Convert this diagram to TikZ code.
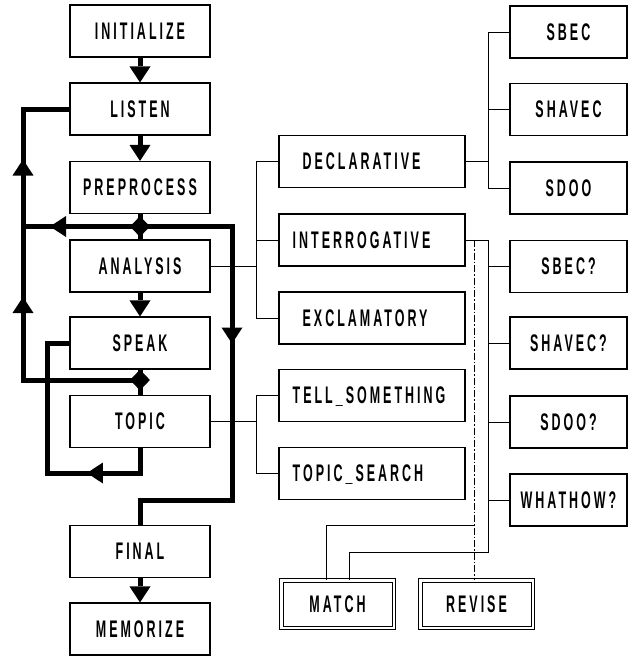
\documentclass[tikz,border=0pt]{standalone}
\usepackage{fontspec}
\newfontfamily\lblfont{Liberation Sans}[UprightFont=* Bold,FakeStretch=0.52,LetterSpace=12.5]
\usetikzlibrary{arrows.meta,shapes.geometric,decorations.markings}
\tikzset{
  lbl/.style={font=\lblfont\fontsize{24}{25}\selectfont, inner sep=0pt, text height=16.5pt, text depth=0pt},
  box/.style={draw, line width=1.1pt, minimum height=52pt, inner sep=0pt, lbl},
  lbox/.style={box, minimum width=140pt},
  mbox/.style={box, minimum width=186pt},
  rbox/.style={box, minimum width=117pt},
  dbox/.style={box, double, double distance=2.5pt, line width=1pt, minimum width=112.5pt, minimum height=47.5pt},
  junction/.style={diamond, fill, draw=none, inner sep=0pt, minimum width=20pt, minimum height=21pt},
  flow/.style={line width=5pt},
  tipshape/.tip={Triangle[width=21pt,length=16pt,line width=0pt]},
  flowarrow/.style={flow, -tipshape},
  wire/.style={line width=1pt},
  dwire/.style={line width=1pt, dash pattern=on 7pt off 2pt on 1.5pt off 2pt},
  midarrow/.style={postaction={decorate}, decoration={markings, mark=at position #1 with {\arrow{tipshape}}}},
  midarrows/.style 2 args={postaction={decorate}, decoration={markings,
     mark=at position #1 with {\arrow{tipshape}},
     mark=at position #2 with {\arrow{tipshape}}}}
}
\begin{document}
\begin{tikzpicture}[x=1pt,y=-1pt]
\useasboundingbox (0,0) rectangle (632,657);
% left column
\node[lbox] (init)   at (140,31)    {INITIALIZE};
\node[lbox] (listen) at (140,109)   {LISTEN};
\node[lbox] (prep)   at (140,187.5) {PREPROCESS};
\node[lbox] (anal)   at (140,266)   {ANALYSIS};
\node[lbox] (speak)  at (140,343)   {SPEAK};
\node[lbox] (topic)  at (140,421.5) {TOPIC};
\node[lbox] (final)  at (140,551.5) {FINAL};
\node[lbox] (memo)   at (140,629)   {MEMORIZE};
% middle column
\node[mbox] (decl)  at (372,161.5) {};
\node[lbl, anchor=west] at ([xshift=24pt]decl.west) {DECLARATIVE};
\node[mbox] (inter) at (372,240) {};
\node[lbl, anchor=west] at ([xshift=14pt]inter.west) {INTERROGATIVE};
\node[mbox] (excl)  at (372,318) {};
\node[lbl, anchor=west] at ([xshift=24pt]excl.west) {EXCLAMATORY};
\node[mbox] (tell)  at (372,395.5) {};
\node[lbl, anchor=west] at ([xshift=14pt]tell.west) {TELL\_SOMETHING};
\node[mbox] (tsearch) at (372,473.5) {};
\node[lbl, anchor=west] at ([xshift=14pt]tsearch.west) {TOPIC\_SEARCH};
\node[dbox] (match)  at (337.5,604) {MATCH};
\node[dbox] (revise) at (476.5,604) {REVISE};
% right column
\node[rbox] (sbec)    at (568.5,32)    {SBEC};
\node[rbox] (shavec)  at (568.5,109.5) {SHAVEC};
\node[rbox] (sdoo)    at (568.5,188)   {SDOO};
\node[rbox] (sbecq)   at (568.5,266.5) {SBEC?};
\node[rbox] (shavecq) at (568.5,343)   {SHAVEC?};
\node[rbox] (sdooq)   at (568.5,422)   {SDOO?};
\node[rbox] (whathow) at (568.5,500)   {WHATHOW?};
% junctions
\node[junction] (j1) at (140,226.5) {};
\node[junction] (j2) at (140,380) {};
% bus coordinates
\coordinate (lx) at (23,0);
\coordinate (cr) at (232,500);
\coordinate (cl) at (47,473);
\coordinate (b1) at (256,0);
\coordinate (b2) at (488,0);
\coordinate (b3) at (474,0);
\coordinate (m1) at (326,525);
\coordinate (m2) at (349,552);
% main flow
\draw[flowarrow] (init.south) -- (listen.north);
\draw[flowarrow] (listen.south) -- (prep.north);
\draw[flow] (prep.south) -- (j1.center) -- (anal.north);
\draw[flowarrow] (anal.south) -- (speak.north);
\draw[flow] (speak.south) -- (j2.center) -- (topic.north);
\draw[flowarrow] (final.south) -- (memo.north);
% loops
\draw[flow, midarrows={90pt}{184pt}] (j1.center) -- (j1.center -| lx) -- (listen.west -| lx) -- (listen.west);
\draw[flow, midarrow=200pt] (j2.center) -- (j2.center -| lx) -- (j1.center -| lx);
\draw[flow, midarrow=209pt] (j1.center) -| (cr) -| (final.north);
\draw[flow, midarrow=78pt] (topic.south) |- (cl) |- (speak.west);
% thin wires
\draw[wire] (anal.east) -- (anal.east -| b1) |- (decl.west);
\draw[wire] (anal.east -| b1) |- (inter.west);
\draw[wire] (anal.east -| b1) |- (excl.west);
\draw[wire] (topic.east) -- (topic.east -| b1) |- (tell.west);
\draw[wire] (topic.east -| b1) |- (tsearch.west);
\draw[wire] (decl.east) -- (decl.east -| b2) |- (sbec.west);
\draw[wire] (decl.east -| b2) |- (shavec.west);
\draw[wire] (decl.east -| b2) |- (sdoo.west);
\draw[wire] (inter.east) -- (inter.east -| b2) |- (sbecq.west);
\draw[wire] (inter.east -| b2) |- (shavecq.west);
\draw[wire] (inter.east -| b2) |- (sdooq.west);
\draw[wire] (inter.east -| b2) |- (whathow.west);
\draw[wire] (whathow.west -| b2) |- (m2) -- (match.north -| m2);
\draw[dwire] (inter.east -| b3) -- (revise.north -| b3);
\draw[wire] (m1 -| b3) -- (m1) -- (match.north -| m1);
\end{tikzpicture}
\end{document}
